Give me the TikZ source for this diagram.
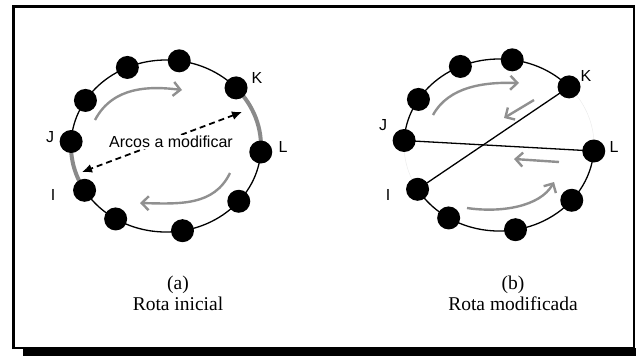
\documentclass[tikz,border=0pt]{standalone}
\usepackage{fontspec}
\setmainfont{Liberation Serif}
\newfontfamily\arialf{Liberation Sans}
\usetikzlibrary{arrows.meta,calc}
\definecolor{arcgray}{HTML}{8A8A8A}
\definecolor{arrgray}{HTML}{909090}
\tikzset{
  dot/.style={circle,fill=black,draw=none,minimum size=23pt,inner sep=0pt},
  lbl/.style={font=\arialf\fontsize{16}{18}\selectfont,inner sep=0pt},
  captionbox/.style={font=\fontsize{19.5}{21}\selectfont,align=center,inner sep=0pt},
  ring/.style={line width=1.3pt},
  hiarc/.style={line width=4pt,arcgray},
  flow/.style={line width=2.4pt,arrgray,-{Straight Barb[length=7pt,width=14pt,line width=2.4pt]}},
  dasharrow/.style={line width=1.8pt,dash pattern=on 6pt off 4pt,{Latex[length=10pt,width=9pt]}-{Latex[length=10pt,width=9pt]}},
  chord/.style={line width=1.3pt}
}
\begin{document}
\begin{tikzpicture}[x=1pt,y=1pt]
\useasboundingbox (0,0) rectangle (636,-356);
% frame
\fill[black] (23,-347.5) rectangle (636,-356);
\draw[line width=1.2pt] (634,-5) -- (634,-348) -- (12,-348);
\draw[line width=3pt] (13.5,-349) -- (13.5,-6.5) -- (635,-6.5);
% ---------- left diagram ----------
\coordinate (cL) at (166,-146);
\draw[ring] (cL) ellipse [x radius=95, y radius=86];
\draw[hiarc] ($(cL)+(42.5:95 and 86)$) arc[start angle=42.5, end angle=-4, x radius=95, y radius=86];
\draw[hiarc] ($(cL)+(177:95 and 86)$) arc[start angle=177, end angle=211, x radius=95, y radius=86];
\foreach \a/\n in {177/J,148/a2,114/a3,82/a4,42.5/K,-4/L,-40/a7,-80/a8,-122/a9,-149/I}
  \node[dot] (L\n) at ($(cL)+(\a:95 and 86)$) {};
\node[lbl] (tJ) at (50,-137) {J};
\node[lbl] (tK) at (257,-78) {K};
\node[lbl] (tL) at (283,-147) {L};
\node[lbl] (tI) at (53,-195) {I};
\coordinate (dA) at (242,-112);
\coordinate (dB) at (82,-172);
\draw[dasharrow] (dA) -- (dB);
\node[lbl,fill=white,inner sep=1pt] (arcos) at (171,-142) {Arcos a modificar};
\coordinate (u1) at (95,-120);
\coordinate (u2) at (182,-90);
\draw[flow] (u1) .. controls (113,-86) and (150,-86) .. (u2);
\coordinate (w1) at (230,-173);
\coordinate (w2) at (140,-203);
\draw[flow] (w1) .. controls (214,-206) and (180,-204) .. (w2);
\node[captionbox] (capa) at (178,-293) {(a)\\Rota inicial};
% ---------- right diagram ----------
\coordinate (cR) at (499,-145);
\draw[gray!15,line width=0.5pt] ($(cR)+(42.5:95 and 86)$) arc[start angle=42.5, end angle=-4, x radius=95, y radius=86];
\draw[gray!15,line width=0.5pt] ($(cR)+(177:95 and 86)$) arc[start angle=177, end angle=211, x radius=95, y radius=86];
\draw[ring] ($(cR)+(42.5:95 and 86)$) arc[start angle=42.5, end angle=177, x radius=95, y radius=86];
\draw[ring] ($(cR)+(211:95 and 86)$) arc[start angle=211, end angle=356, x radius=95, y radius=86];
\foreach \a/\n in {177/J,148/a2,114/a3,82/a4,42.5/K,-4/L,-40/a7,-80/a8,-122/a9,-149/I}
  \coordinate (R\n) at ($(cR)+(\a:95 and 86)$);
\draw[chord] (RJ) -- (RL);
\draw[chord] (RI) -- (RK);
\foreach \n in {J,a2,a3,a4,K,L,a7,a8,a9,I}
  \node[dot] (RN\n) at (R\n) {};
\node[lbl] (rtJ) at (383,-125) {J};
\node[lbl] (rtK) at (586,-76) {K};
\node[lbl] (rtL) at (614,-147) {L};
\node[lbl] (rtI) at (388,-195) {I};
\coordinate (p1) at (433,-115);
\coordinate (p2) at (519,-83);
\draw[flow] (p1) .. controls (449,-86) and (485,-82) .. (p2);
\coordinate (q1) at (534,-100);
\coordinate (q2) at (504,-118);
\draw[flow] (q1) -- (q2);
\coordinate (s1) at (559,-162);
\coordinate (s2) at (514,-159);
\draw[flow] (s1) -- (s2);
\coordinate (t1) at (467,-208);
\coordinate (t2) at (554,-182);
\draw[flow] (t1) .. controls (500,-213) and (540,-207) .. (t2);
\node[captionbox] (capb) at (513,-293) {(b)\\Rota modificada};
\end{tikzpicture}
\end{document}
